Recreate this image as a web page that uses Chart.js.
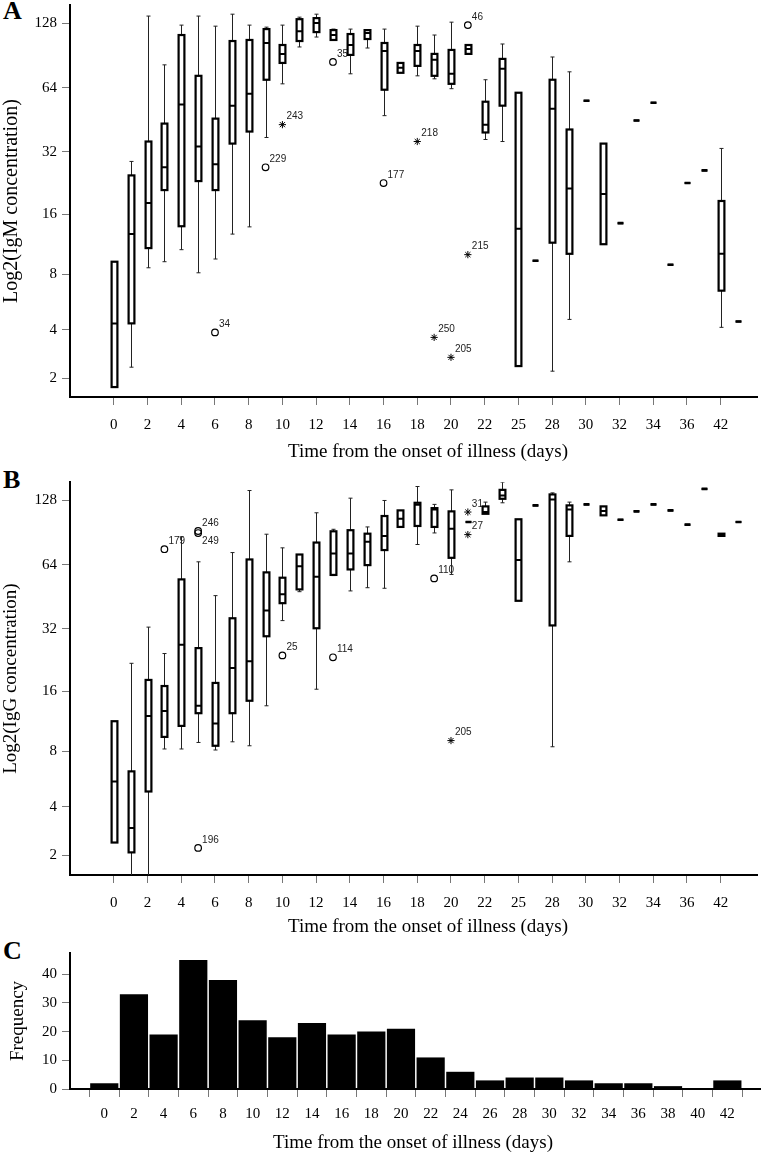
<!DOCTYPE html>
<html>
<head>
<meta charset="utf-8">
<script src="https://cdn.jsdelivr.net/npm/chart.js@4"></script>
<style>
  body { margin: 0; background: #fff; width: 763px; height: 1154px; position: relative; overflow: hidden; }
  .panel { position: absolute; left: 0; width: 763px; }
  .tag { position: absolute; left: 3px; font: bold 26px "Liberation Serif"; line-height: 26px; }
</style>
</head>
<body>
<div class="tag" style="top:-2px">A</div>
<div class="tag" style="top:467px">B</div>
<div class="tag" style="top:938px">C</div>
<div class="panel" style="top:0;height:465px"><canvas id="chartA"></canvas></div>
<div class="panel" style="top:477px;height:463px"><canvas id="chartB"></canvas></div>
<div class="panel" style="top:940px;height:214px"><canvas id="chartC"></canvas></div>
<script>
// day labels under every second box (one box per slot)
const dayLabels = ['0', '2', '4', '6', '8', '10', '12', '14', '16', '18', '20', '22', '25', '28', '30', '32', '34', '36', '42'];
const yTickVals = [2, 4, 8, 16, 32, 64, 128];

// IgM per slot: [min, q1, median, q3, max]  (single value = one reading only)
const igmStats = [
  [1.73, 1.73, 4.36, 9.3, 9.3], [2.37, 4.36, 12.8, 24.7, 28.8], [8.66, 10.9, 18.2, 35.8, 138],
  [9.3, 21.0, 27.0, 43.5, 81.9], [10.7, 14.0, 53.4, 112.7, 125.3], [8.16, 23.2, 33.9, 72.8, 138],
  [9.6, 21.0, 27.9, 45.9, 123.9], [12.8, 35.0, 52.8, 105.7, 140.8], [13.9, 39.9, 60.1, 106.9, 125.3],
  [37.4, 69.8, 103.5, 120.1, 122.6], [66.8, 83.6, 92.1, 101.3, 125.3], [99.2, 105.7, 117.5, 133.5, 136.4],
  [110.3, 116.3, 128, 135, 140.8], [106.9, 106.9, 112.7, 118.8, 120.1], [74.4, 91.1, 101.3, 113.9, 120.1],
  [98.1, 108, 115.1, 118.8, 118.8], [47.4, 62.7, 95, 103.5, 120.1], [75.2, 75.2, 79.3, 83.6, 83.6],
  [72.8, 81, 95, 101.3, 123.9], [70.5, 72.8, 86.4, 92.1, 112.7], [63.4, 66.8, 74.4, 96.1, 129.3],
  [92.1, 92.1, 97.1, 101.3, 101.3], [36.6, 39.5, 43, 55.1, 69.8], [35.8, 52.8, 78.5, 87.3, 102.4],
  [2.41, 2.41, 13.6, 60.7, 60.7], [9.4], [2.23, 11.6, 51.1, 69.8, 89.1],
  [4.59, 10.2, 21.4, 40.8, 76], [55.7], [11.4, 11.4, 20.1, 35, 35],
  [14.5], [45], [54.5], [8.97], [22.7], [26.1],
  [4.14, 6.58, 10.2, 18.6, 33.2], [4.47]
];
const igmOutId   = ['34', '229', '243', '35', '177', '218', '250', '205', '46', '215'];
const igmOutSlot = [6, 9, 10, 13, 16, 18, 19, 20, 21, 21];
const igmOutVal  = [3.87, 27, 43, 84.5, 22.7, 35.8, 3.62, 2.74, 125.3, 10.1];
const igmOutKind = ['o', 'o', '*', 'o', 'o', '*', '*', '*', 'o', '*'];

// IgG per slot
const iggStats = [
  [2.43, 2.43, 5.54, 11.4, 11.4], [1.2, 2.09, 3.0, 6.29, 21.9], [1.2, 4.89, 12.1, 18.2, 32.6],
  [8.24, 9.5, 12.8, 17.0, 24.4], [8.24, 10.8, 26.9, 54.7, 86.4], [8.9, 12.5, 13.6, 25.9, 66.1],
  [8.14, 8.56, 11.1, 17.6, 45.9], [8.97, 12.5, 20.8, 35.9, 73], [8.56, 14.4, 22.4, 67.8, 141.8],
  [13.6, 29.5, 39.1, 59, 88.9], [35, 42.3, 46.6, 55.7, 76.8], [47.9, 49.1, 63.1, 71.5, 71.5],
  [16.4, 32.2, 56.3, 81.3, 111.8], [57, 57.4, 72.3, 91.7, 93.7], [48.3, 60.9, 72.3, 92.8, 130.7],
  [50, 63.8, 81.9, 89.4, 96.1], [49.7, 75, 87.3, 108, 127.5], [96.1, 96.1, 104.9, 114.7, 114.7],
  [79.6, 97.1, 121.8, 124.4, 148], [90.1, 96.1, 115.9, 117.5, 122.3], [57.7, 69, 94.3, 113.5, 142.8],
  [101.3], [110.6, 110.6, 112.7, 119.7, 125.3], [124.4, 129.8, 134.5, 142.8, 155],
  [43.4, 43.4, 67.4, 104.3, 104.3], [121], [8.46, 33.2, 129, 136, 138.3],
  [66.1, 87.3, 115.9, 121, 125.3], [122.3], [108.8, 108.8, 113.9, 119.7, 119.7],
  [103.8], [113.5], [122.3], [114.7], [98.5], [144.3],
  [87.3, 87.3, 88.5, 89.4, 89.4], [101.3]
];
const iggOutId   = ['179', '246', '249', '196', '25', '114', '110', '205', '31', '27'];
const iggOutSlot = [3, 5, 5, 5, 10, 13, 19, 20, 21, 21];
const iggOutVal  = [75.7, 92, 90, 2.24, 23.9, 23.4, 55.3, 9.1, 112.7, 88.5];
const iggOutKind = ['o', 'o', 'o', 'o', 'o', 'o', 'o', '*', '*', '*'];
const labelBelow = ['249'];

// histogram (2-day bins)
const histDays   = [0, 2, 4, 6, 8, 10, 12, 14, 16, 18, 20, 22, 24, 26, 28, 30, 32, 34, 36, 38, 40, 42];
const histCounts = [2, 33, 19, 45, 38, 24, 18, 23, 19, 20, 21, 11, 6, 3, 4, 4, 3, 2, 2, 1, 0, 3];

const serif = 'Liberation Serif';
const tr = v => Math.log2(v + 1);   // axis is log2(conc + 1)

function boxPlugin(stats, ids, slots, vals) {
  return {
    id: 'boxes',
    beforeDatasetsDraw(chart) {
      const {ctx, chartArea: a, scales: {x, y}} = chart;
      const p = v => y.getPixelForValue(tr(v));
      const w = 2.9;
      ctx.save();
      ctx.beginPath();
      ctx.rect(a.left, a.top, a.right - a.left, a.bottom - a.top);
      ctx.clip();
      // case numbers first, boxes may cover them
      ctx.font = '10px "Liberation Sans"';
      ctx.fillStyle = '#222';
      ctx.textAlign = 'left';
      ids.forEach((id, i) => {
        const px = x.getPixelForValue(slots[i]), py = p(vals[i]);
        if (labelBelow.includes(id)) {
          ctx.textBaseline = 'top';
          ctx.fillText(id, px + 4, py + 3);
        } else {
          ctx.textBaseline = 'bottom';
          ctx.fillText(id, px + 4, py - 3);
        }
      });
      stats.forEach((s, i) => {
        const [lo, q1, md, q3, hi] = s.length === 1 ? [s[0], s[0], s[0], s[0], s[0]] : s;
        const cx = Math.round(x.getPixelForValue(i)) + 0.5;
        ctx.strokeStyle = '#222';
        ctx.lineWidth = 1;
        ctx.beginPath();
        if (hi > q3) {
          ctx.moveTo(cx, p(hi)); ctx.lineTo(cx, p(q3));
          ctx.moveTo(cx - 2, p(hi)); ctx.lineTo(cx + 2, p(hi));
        }
        if (lo < q1) {
          ctx.moveTo(cx, p(q1)); ctx.lineTo(cx, p(lo));
          ctx.moveTo(cx - 2, p(lo)); ctx.lineTo(cx + 2, p(lo));
        }
        ctx.stroke();
        const top = p(q3), bot = p(q1);
        ctx.fillStyle = '#fff';
        ctx.fillRect(cx - w, top, 2 * w, bot - top);
        ctx.strokeStyle = '#000';
        ctx.lineWidth = s.length === 1 ? 2.6 : 2.2;
        ctx.strokeRect(cx - w, top, 2 * w, bot - top);
        ctx.beginPath();
        ctx.lineWidth = 2;
        ctx.moveTo(cx - w, p(md)); ctx.lineTo(cx + w, p(md));
        ctx.stroke();
      });
      ctx.restore();
    }
  };
}

const captionPlugin = {
  id: 'caption',
  afterDraw(chart, args, opts) {
    const ctx = chart.ctx;
    ctx.save();
    ctx.font = '19px "' + serif + '"';
    ctx.fillStyle = '#000';
    ctx.textAlign = 'center';
    ctx.textBaseline = 'middle';
    ctx.fillText(opts.text, opts.x, opts.y);
    ctx.restore();
  }
};

function boxChart(id, stats, ids, slots, vals, kinds, yTitle, yTitleSize, yMin, xHeight, capY) {
  const pts = kind => ids.map((d, i) => ({x: slots[i], y: tr(vals[i]), k: kinds[i]})).filter(q => q.k === kind);
  return new Chart(document.getElementById(id), {
    type: 'scatter',
    data: {
      datasets: [
        {data: pts('o'), pointStyle: 'circle', radius: 3.3, borderColor: '#000', borderWidth: 1.2, backgroundColor: 'rgba(0,0,0,0)'},
        {data: pts('*'), pointStyle: 'star', radius: 3.6, borderColor: '#000', borderWidth: 1, backgroundColor: 'rgba(0,0,0,0)'}
      ]
    },
    options: {
      animation: false,
      responsive: true,
      maintainAspectRatio: false,
      layout: {padding: {top: 3, right: 0, left: 0, bottom: 0}},
      plugins: {
        legend: {display: false},
        tooltip: {enabled: false},
        caption: {text: 'Time from the onset of illness (days)', x: 428, y: capY}
      },
      scales: {
        x: {
          type: 'linear', min: -2.6, max: 38.2,
          afterBuildTicks: s => { s.ticks = dayLabels.map((d, i) => ({value: 2 * i})); },
          ticks: {callback: (v, i) => dayLabels[i], font: {family: serif, size: 15}, color: '#000', padding: 11, maxRotation: 0, autoSkip: false},
          grid: {drawOnChartArea: false, tickLength: 8, tickColor: '#777', tickWidth: 1},
          border: {color: '#000', width: 2},
          afterFit: s => { s.height = xHeight; s.paddingLeft = 0; s.paddingRight = 0; }
        },
        y: {
          type: 'linear', min: yMin, max: 7.285,
          afterBuildTicks: s => { s.ticks = yTickVals.map(v => ({value: tr(v)})); },
          ticks: {callback: (v, i) => yTickVals[i], font: {family: serif, size: 15}, color: '#000', padding: 5},
          grid: {drawOnChartArea: false, tickLength: 8, tickColor: '#777', tickWidth: 1},
          border: {color: '#000', width: 2},
          title: {display: true, text: yTitle, font: {family: serif, size: yTitleSize}, color: '#000', padding: {top: 0, bottom: 0}},
          afterFit: s => { s.width = 70; s.paddingTop = 0; s.paddingBottom = 0; }
        }
      }
    },
    plugins: [boxPlugin(stats, ids, slots, vals), captionPlugin]
  });
}

boxChart('chartA', igmStats, igmOutId, igmOutSlot, igmOutVal, igmOutKind, 'Log2(IgM concentration)', 20, 1.297, 68, 452);
boxChart('chartB', iggStats, iggOutId, iggOutSlot, iggOutVal, iggOutKind, 'Log2(IgG concentration)', 19, 1.282, 65, 450);

new Chart(document.getElementById('chartC'), {
  type: 'bar',
  data: {
    datasets: [{
      data: histDays.map((d, i) => ({x: d, y: histCounts[i]})),
      backgroundColor: '#000',
      borderWidth: 0,
      barPercentage: 0.95,
      categoryPercentage: 1
    }]
  },
  options: {
    animation: false,
    responsive: true,
    maintainAspectRatio: false,
    layout: {padding: {top: 13, right: 3, left: 0, bottom: 0}},
    plugins: {
      legend: {display: false},
      tooltip: {enabled: false},
      caption: {text: 'Time from the onset of illness (days)', x: 413, y: 203}
    },
    scales: {
      x: {
        type: 'linear', min: -2.31, max: 44.2, offset: false,
        afterBuildTicks: s => { s.ticks = histDays.map(d => ({value: d})); },
        ticks: {font: {family: serif, size: 15}, color: '#000', padding: 8, maxRotation: 0, autoSkip: false},
        grid: {drawOnChartArea: false, tickLength: 8, tickColor: '#777', tickWidth: 1},
        border: {color: '#000', width: 2},
        afterFit: s => { s.height = 65; s.paddingLeft = 0; s.paddingRight = 0; }
      },
      y: {
        min: 0, max: 47.4,
        afterBuildTicks: s => { s.ticks = [0, 10, 20, 30, 40].map(v => ({value: v})); },
        ticks: {font: {family: serif, size: 15}, color: '#000', padding: 5},
        grid: {drawOnChartArea: false, tickLength: 8, tickColor: '#777', tickWidth: 1},
        border: {color: '#000', width: 2},
        title: {display: true, text: 'Frequency', font: {family: serif, size: 19}, color: '#000', padding: {top: 7, bottom: 0}},
        afterFit: s => { s.width = 70; s.paddingTop = 0; s.paddingBottom = 0; }
      }
    }
  },
  plugins: [captionPlugin]
});
</script>
</body>
</html>
